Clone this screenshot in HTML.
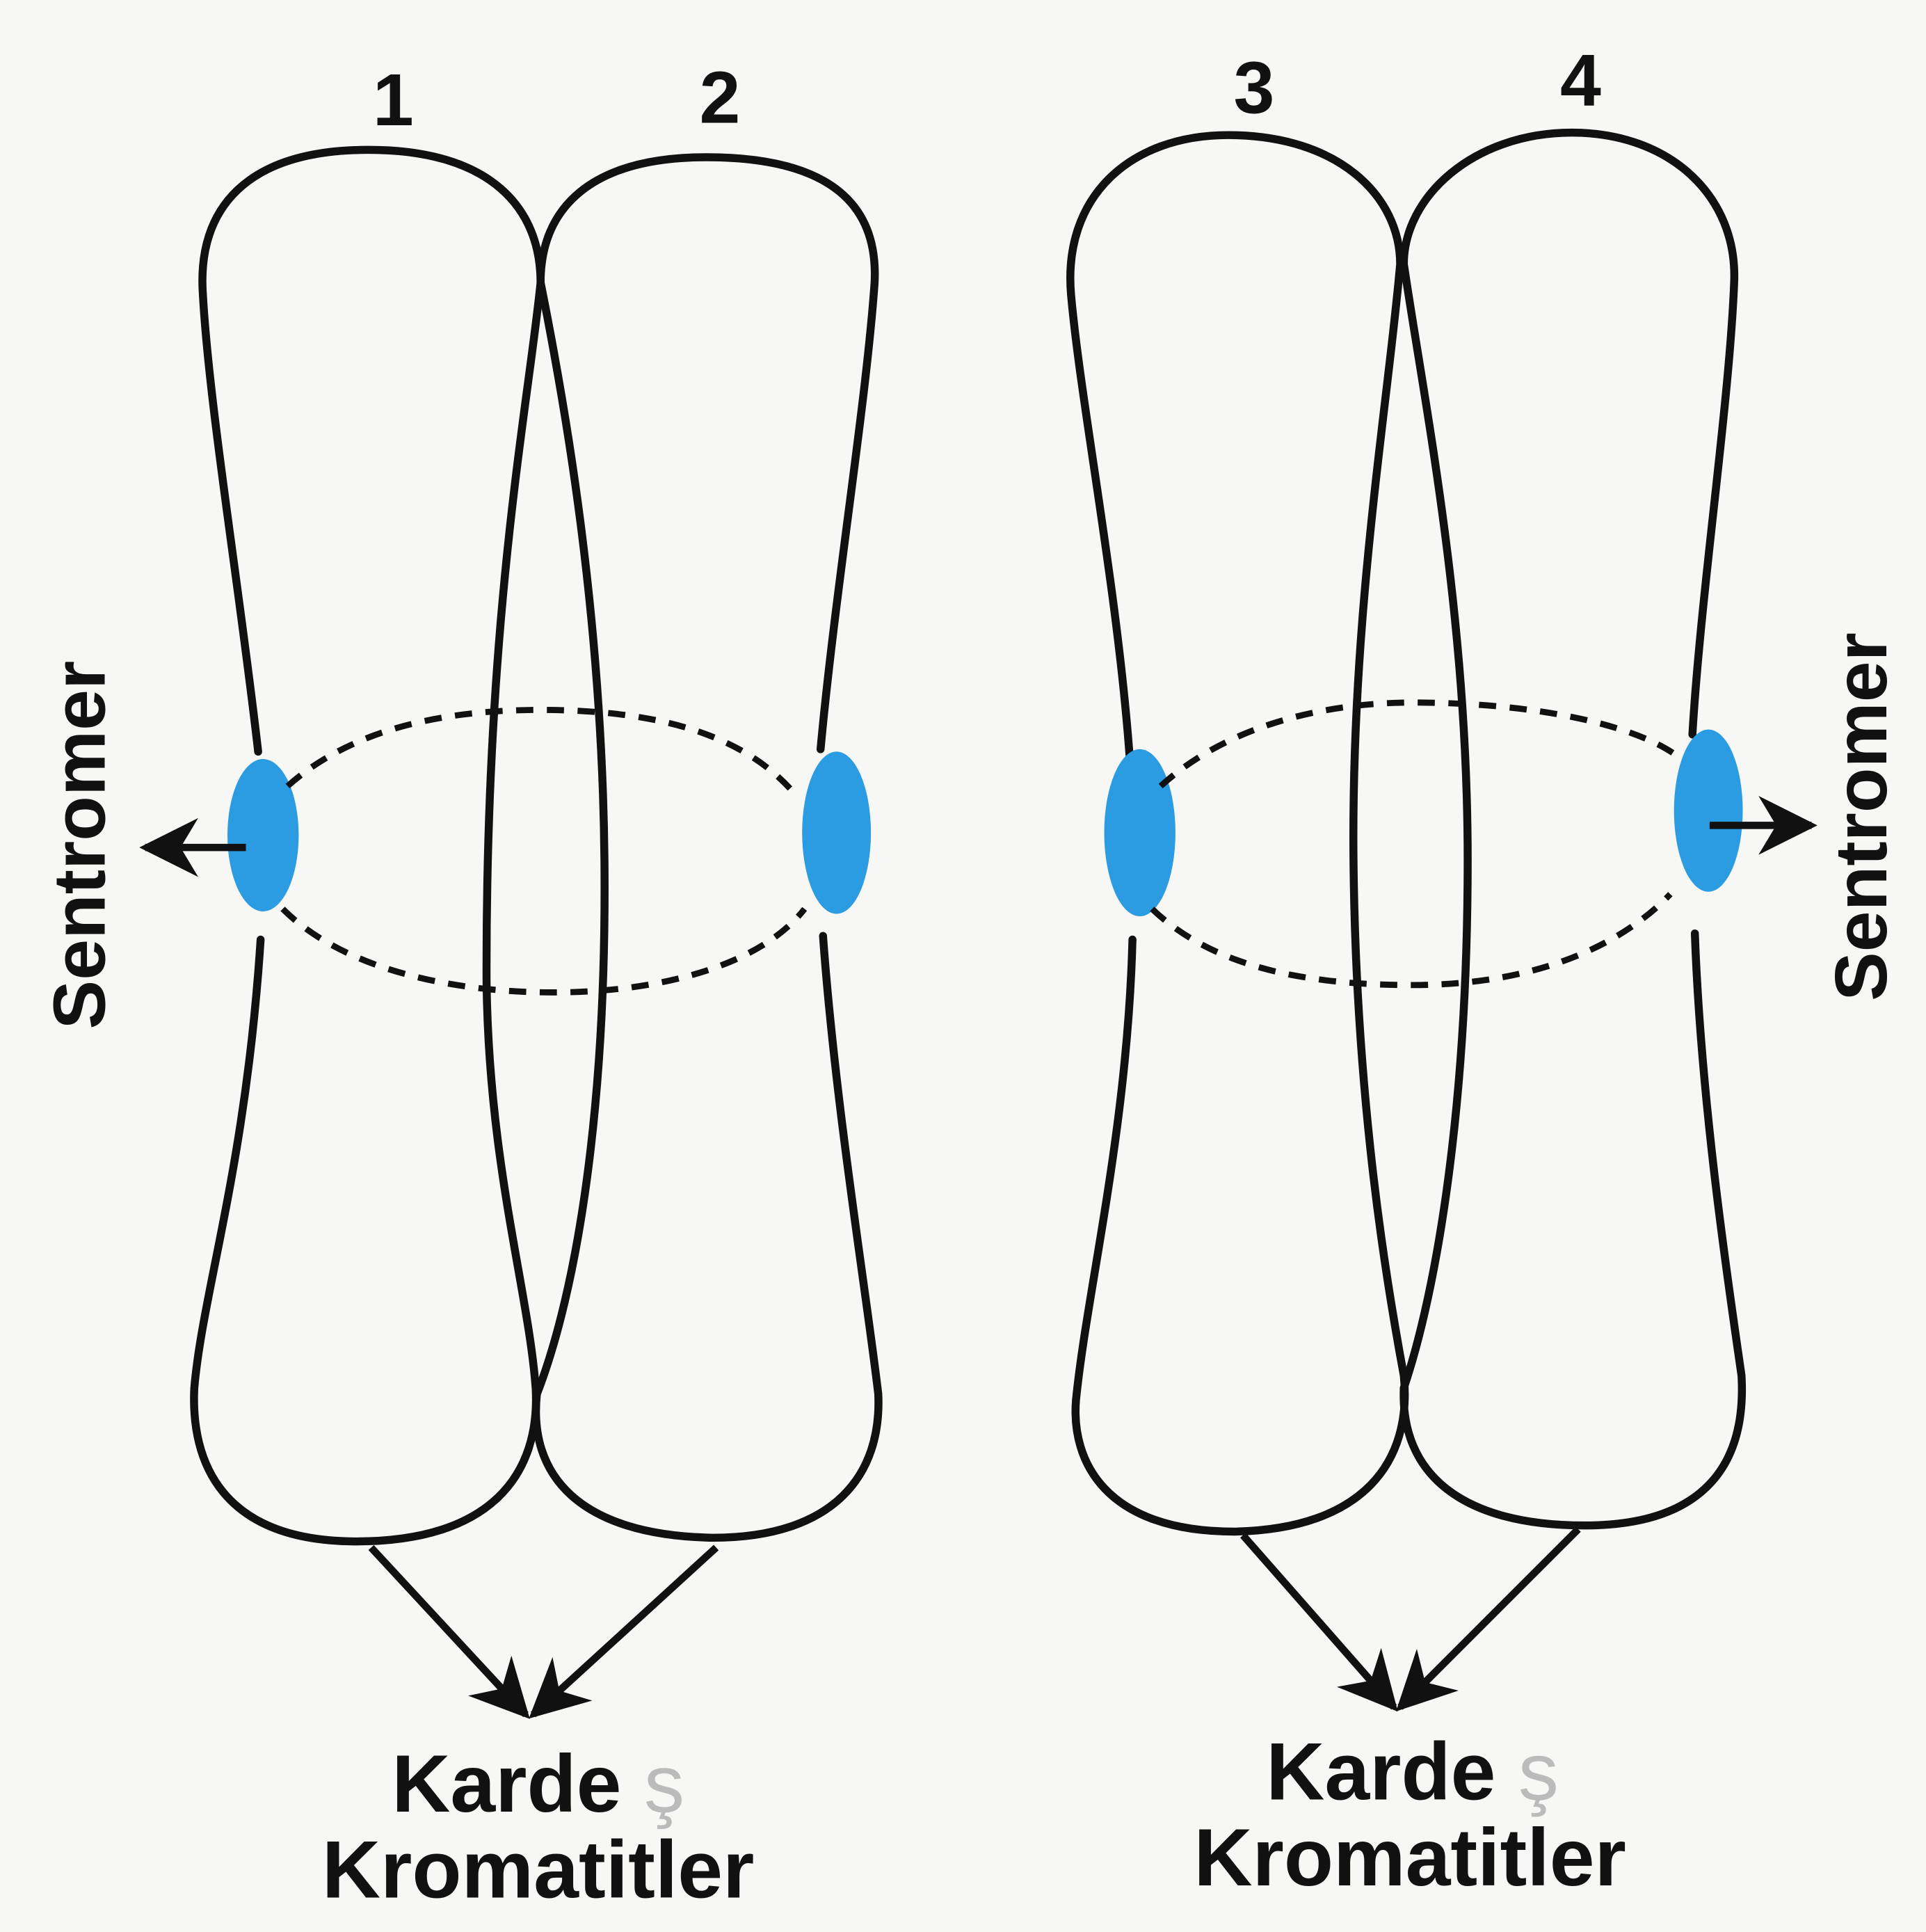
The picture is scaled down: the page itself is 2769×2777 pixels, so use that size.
<!DOCTYPE html>
<html><head><meta charset="utf-8"><style>
html,body{margin:0;padding:0;background:#f7f7f5;}
svg{display:block}
text{font-family:"Liberation Sans Narrow","Liberation Sans",sans-serif;font-weight:bold;fill:#111}
</style></head><body>
<svg width="2769" height="2777" viewBox="0 0 1568 1573" xmlns="http://www.w3.org/2000/svg">
<defs>
<marker id="ah" viewBox="0 0 10 10" refX="9" refY="5" markerWidth="8" markerHeight="8" markerUnits="strokeWidth" orient="auto">
<path d="M0,0 L10,5 L0,10 L3,5 z" fill="#111"/>
</marker>
</defs>
<rect width="1568" height="1573" fill="#f7f7f5"/>
<g fill="none" stroke="#111" stroke-width="6.5" stroke-linecap="round">
<path d="M210,612 C195,480 170,330 165,240 C160,170 200,122 300,122 C400,122 440,170 440,230 C430,330 395,500 396,800 C398,950 430,1050 436,1130 C440,1200 400,1255 290,1255 C180,1255 155,1190 158,1130 C165,1050 200,950 212,765"/>
<path d="M668,610 C680,480 705,330 712,230 C715,170 680,128 575,128 C480,128 440,170 440,230 C460,330 490,500 492,700 C494,900 470,1050 437,1135 C430,1200 470,1250 580,1252 C680,1252 718,1200 715,1135 C705,1050 680,900 670,762"/>
<path d="M920,620 C910,480 880,330 872,240 C865,160 920,110 1000,110 C1090,110 1140,160 1140,215 C1130,330 1100,500 1102,700 C1104,900 1130,1050 1143,1120 C1150,1190 1110,1245 1005,1247 C900,1247 872,1190 876,1140 C885,1050 918,920 922,765"/>
<path d="M1378,598 C1385,480 1408,330 1412,230 C1415,160 1360,108 1280,108 C1200,108 1143,160 1143,215 C1160,330 1195,500 1195,700 C1195,900 1170,1050 1143,1130 C1140,1200 1190,1242 1290,1242 C1390,1242 1422,1190 1418,1120 C1408,1050 1385,900 1380,760"/>
</g>
<g fill="#2b9be2">
<ellipse cx="214" cy="680" rx="29" ry="62"/>
<ellipse cx="681" cy="678" rx="28" ry="66"/>
<ellipse cx="928" cy="678" rx="29" ry="68"/>
<ellipse cx="1391" cy="660" rx="28" ry="66"/>
</g>
<g fill="none" stroke="#111" stroke-width="5" stroke-dasharray="14,11">
<path d="M234,640 C290,590 370,578 440,578 C540,578 610,600 650,650"/>
<path d="M230,740 C280,790 370,808 450,808 C540,808 620,785 655,740"/>
<path d="M945,640 C1000,590 1080,572 1150,572 C1250,572 1330,590 1365,615"/>
<path d="M938,740 C990,790 1070,802 1150,802 C1250,802 1320,770 1360,728"/>
</g>
<g stroke="#111" stroke-width="6" fill="none" marker-end="url(#ah)">
<line x1="200" y1="690" x2="118" y2="690"/>
<line x1="1392" y1="672" x2="1475" y2="672"/>
<line x1="302" y1="1260" x2="428" y2="1396"/>
<line x1="583" y1="1260" x2="434" y2="1396"/>
<line x1="1012" y1="1250" x2="1135" y2="1390"/>
<line x1="1285" y1="1245" x2="1140" y2="1390"/>
</g>
<text x="320" y="102" font-size="60" text-anchor="middle">1</text>
<text x="586" y="100" font-size="60" text-anchor="middle">2</text>
<text x="1021" y="92" font-size="60" text-anchor="middle">3</text>
<text x="1287" y="86" font-size="60" text-anchor="middle">4</text>
<text transform="translate(85,688) rotate(-90)" font-size="60" text-anchor="middle">Sentromer</text>
<text transform="translate(1536,665) rotate(-90)" font-size="60" text-anchor="middle">Sentromer</text>
<text x="438" y="1475" font-size="66" text-anchor="middle">Karde<tspan fill="#bbb" font-weight="normal"> ş</tspan></text>
<text x="438" y="1545" font-size="66" text-anchor="middle">Kromatitler</text>
<text x="1150" y="1465" font-size="66" text-anchor="middle">Karde<tspan fill="#bbb" font-weight="normal"> ş</tspan></text>
<text x="1148" y="1535" font-size="66" text-anchor="middle">Kromatitler</text>
</svg>
</body></html>
